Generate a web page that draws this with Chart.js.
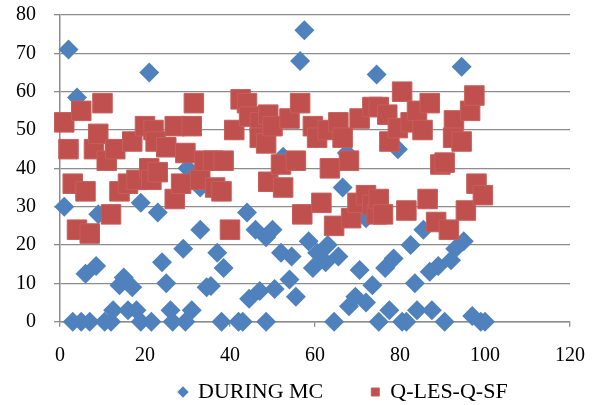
<!DOCTYPE html>
<html>
<head>
<meta charset="utf-8">
<script src="https://cdn.jsdelivr.net/npm/chart.js@4.4.0/dist/chart.umd.min.js"></script>
<style>
  html, body { margin: 0; padding: 0; background: #fff; }
  #wrap { width: 602px; height: 405px; }
</style>
</head>
<body>
<div id="wrap"><canvas id="chart" width="602" height="405"></canvas></div>
<script>
// values
const duringX = [1,2,3,4,5,6,7,8.5,9,10.5,12,12.5,14,15,16,17,18,19,19,21,21.5,23,24,25,26,26.5,29,29.5,30,31,
  33,33,34.5,35.5,37,38,38.5,42,43,44,44.5,46,47,48.5,48.5,50,50.5,52,52.5,54,54.5,55.5,56.5,57.5,58.5,59.5,60.5,62.5,63,64.5,
  65.5,66.5,67.5,68,69.5,70.5,72,72,73.5,74.5,75,76.5,77.5,78.5,79.5,80.5,81.5,82.5,83.5,84,85.5,87,87.5,89,90.5,92,93,94.5,95,97,99,100];
const duringY = [30,71,0,58.5,0,12.5,0,14.5,28,0,0,3,9.5,11.5,3,9,3,0,31,65,0,28.5,15.5,10,3,0,19,0,40,3,
  24,35,9,9.3,18,0,14,0,0,28.5,6,24,8,22,0,24,8.5,18,43,11,17,6.5,68,76,21,14,18,15.5,20,0,
  17,35,44,4,6.5,13.5,5,27,9.5,64.5,0,14,3,16.5,45,0,0,20,10,3,24,13,3,14.5,0,16,19,66.5,21,1.5,0,0];

const qlesX = [1,2,3,4,5,6,7,8,9,10,11,12,13,14,16,17,18,20,21,21.5,22,22.5,23,25,27,27,28.5,29.5,31,31.5,
  33,34,36,36.5,38,38.5,40,41,42.5,44,44.5,47,47,48.5,49,49,50,52,52.5,54,55.5,56.5,57,59.5,60.5,61.5,63,63.5,64.5,65.5,
  66.5,68,68.5,70,70.5,72,73.5,73.5,74.5,75,75,76,77,77.5,79.5,80.5,81.5,82.5,84,85.3,86.5,87,88.5,89.5,90.5,91.5,92.7,92.5,94.5,95.5,
  96.5,97.5,98,99.5];
const qlesY = [52,45,36,24,55,34,23,45,49,57,42,28,45,34,36,47,37,51,40,37,50,47,39,45.5,51,32,36,44,51,57,
  37,42,42,35,34,42,24,50,58,57,53.5,52,48,46.5,54,36.5,51,41,35,53,42,57,28,51,48,31,50,40,25,52,
  48,42,27,31,53,33,56,30.5,28,56,32,28,54,47,50.5,60,29,52,55,50,32,57,26,41,41.5,24,52.5,48,47,29,
  55,59,36,33];

const seriesNames = ['DURING MC', 'Q-LES-Q-SF'];
const xRange = [0, 120];
const yRange = [0, 80];

function toPoints(xs, ys) {
  return xs.map((x, i) => ({ x: x, y: ys[i] }));
}

const FONT = "'Liberation Serif', 'Times New Roman', serif";
const LEGEND_X = 179;
const LEGEND_Y = 392;
const LEGEND_GAP = 48;
const LEGEND_FS = 22;

// move the legend where the reference has it
const placeLegend = {
  id: 'placeLegend',
  afterLayout(chart) {
    const lg = chart.legend;
    lg.left = LEGEND_X - LEGEND_GAP;
    lg.right = 602;
    lg.top = LEGEND_Y - LEGEND_GAP - LEGEND_FS / 2;
    lg.bottom = 405;
    lg.width = lg.right - lg.left;
    lg.height = lg.bottom - lg.top;
  }
};

new Chart(document.getElementById('chart'), {
  type: 'scatter',
  data: {
    datasets: [
      {
        label: seriesNames[0],
        data: toPoints(duringX, duringY),
        pointStyle: 'rectRot',
        pointRadius: 10,
        pointHoverRadius: 10,
        backgroundColor: '#4F81BD',
        borderColor: '#4F81BD',
        borderWidth: 0,
        order: 2,
        clip: false
      },
      {
        label: seriesNames[1],
        data: toPoints(qlesX, qlesY),
        pointStyle: 'rect',
        pointRadius: 13.8,
        pointHoverRadius: 13.8,
        backgroundColor: '#C0504D',
        borderColor: '#C65F5C',
        borderWidth: 1,
        order: 1,
        clip: false
      }
    ]
  },
  options: {
    responsive: false,
    animation: false,
    devicePixelRatio: 1,
    layout: { padding: { top: 15, right: 30, left: 0, bottom: 0 } },
    scales: {
      x: {
        type: 'linear',
        min: xRange[0],
        max: xRange[1],
        afterFit: (s) => { s.height = 405 - 321.7 - 40; },
        ticks: { stepSize: 20, padding: 17, maxRotation: 0, color: '#000', font: { family: FONT, size: 20 } },
        grid: { drawOnChartArea: false, tickLength: 5, color: '#8c8c8c', lineWidth: 1.3 },
        border: { color: '#8c8c8c', width: 1.5 }
      },
      y: {
        min: yRange[0],
        max: yRange[1],
        afterFit: (s) => { s.width = 60; s.paddingTop = 0; s.paddingBottom = 0; },
        ticks: { stepSize: 10, padding: 18, color: '#000', font: { family: FONT, size: 20 } },
        grid: { color: '#8c8c8c', lineWidth: 1.3, tickLength: 6 },
        border: { color: '#8c8c8c', width: 1.5 }
      }
    },
    plugins: {
      tooltip: { enabled: false },
      legend: {
        position: 'bottom',
        align: 'start',
        maxHeight: 40,
        labels: {
          usePointStyle: true,
          boxWidth: 8,
          boxHeight: 8,
          padding: LEGEND_GAP,
          color: '#000',
          font: { family: FONT, size: LEGEND_FS },
          sort: (a, b) => a.datasetIndex - b.datasetIndex
        }
      }
    }
  },
  plugins: [placeLegend]
});
</script>
</body>
</html>
